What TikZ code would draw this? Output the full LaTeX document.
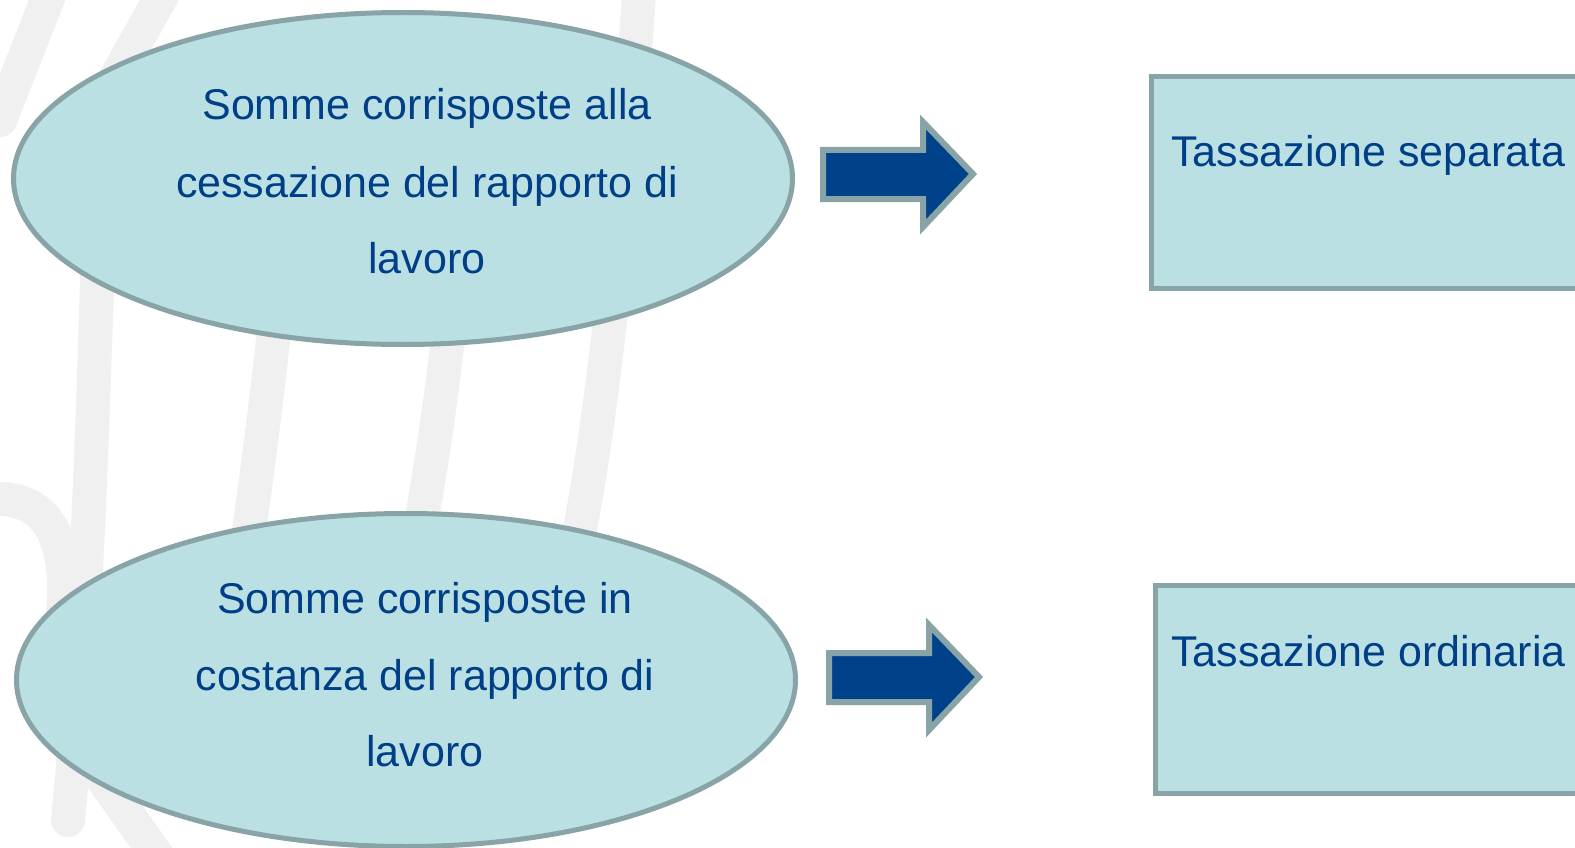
\documentclass[tikz,border=0pt]{standalone}
\usepackage{fontspec}
\setmainfont{Liberation Sans}
\usetikzlibrary{shapes.geometric}
\definecolor{fillc}{HTML}{BAE0E3}
\definecolor{borderc}{HTML}{88A4A7}
\definecolor{textc}{HTML}{003F87}
\definecolor{arrowc}{HTML}{00428A}
\definecolor{wmark}{HTML}{F0F0F0}
\tikzset{
  ell/.style={ellipse, draw=borderc, fill=fillc, line width=5pt, inner sep=0pt},
  boxr/.style={rectangle, draw=borderc, fill=fillc, line width=5pt, inner sep=0pt, anchor=north west},
  txt/.style={text=textc, font=\fontsize{43}{76}\selectfont, inner sep=0pt},
  barrow/.style={draw=borderc, fill=arrowc, line width=6pt, miter limit=10},
  wm/.style={draw=wmark, line width=34pt, line cap=round}
}
\begin{document}
\begin{tikzpicture}[x=1pt,y=-1pt]
\useasboundingbox (0,0) rectangle (1575,848);
\clip (0,0) rectangle (1575,848);
\fill[white] (0,0) rectangle (1575,848);
% watermark strokes
\draw[wm] (98,250) .. controls (92,450) and (85,650) .. (68,820);
\draw[wm] (290,150) .. controls (275,350) and (260,450) .. (245,560);
\draw[wm] (470,100) .. controls (455,300) and (440,420) .. (418,540);
\draw[wm] (640,-20) .. controls (625,200) and (605,400) .. (578,540);
\draw[wm] (55,-20) -- (0,120);
\draw[wm] (95,115) -- (165,-10);
\draw[wm] (-20,500) .. controls (50,490) and (75,540) .. (60,640);
\draw[wm] (100,775) -- (160,860);
% ellipses
\node[ell, minimum width=779pt, minimum height=332pt] (e1) at (403,178.5) {};
\node[ell, minimum width=779pt, minimum height=333pt] (e2) at (406,680) {};
% ellipse texts
\node[txt, anchor=base] (e1a) at (427,120) {Somme corrisposte alla};
\node[txt, anchor=base] (e1b) at (427,197) {cessazione del rapporto di};
\node[txt, anchor=base] (e1c) at (427,273) {lavoro};
\node[txt, anchor=base] (e2a) at (425,613) {Somme corrisposte in};
\node[txt, anchor=base] (e2b) at (425,690) {costanza del rapporto di};
\node[txt, anchor=base] (e2c) at (425,766) {lavoro};
% boxes
\node[boxr, minimum width=480pt, minimum height=211pt] (b1) at (1148.5,74.5) {};
\node[boxr, minimum width=480pt, minimum height=208pt] (b2) at (1152.5,582.5) {};
\node[txt, anchor=base west] (b1t) at (1171,167) {Tassazione separata};
\node[txt, anchor=base west] (b2t) at (1171,666) {Tassazione ordinaria};
% block arrows
\coordinate (a1) at (823,150);
\coordinate (a2) at (829,653);
\draw[barrow] (a1) -- ++(100,0) -- ++(0,-28) -- ++(50,52) -- ++(-50,53) -- ++(0,-28) -- ++(-100,0) -- cycle;
\draw[barrow] (a2) -- ++(100,0) -- ++(0,-28) -- ++(50,52) -- ++(-50,53) -- ++(0,-28) -- ++(-100,0) -- cycle;
\end{tikzpicture}
\end{document}
